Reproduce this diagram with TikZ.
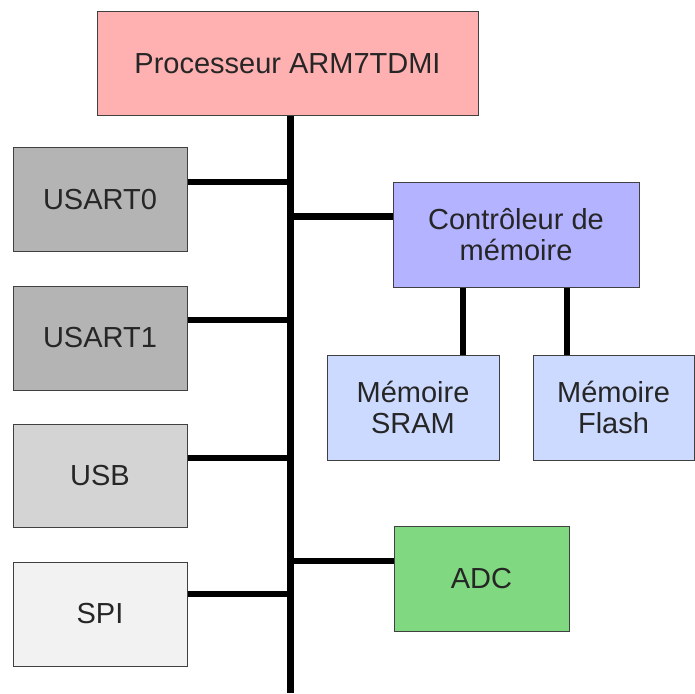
\documentclass[tikz,border=0pt]{standalone}
\usepackage{fontspec}
\setmainfont{Liberation Sans}
\begin{document}
\begin{tikzpicture}[x=1pt,y=-1pt,
  blk/.style={draw=black!75,line width=1pt,rectangle,inner sep=0pt,align=center,
    font=\fontsize{29}{31}\selectfont,text=black!85},
  bus/.style={line width=6.5pt,black}]
\useasboundingbox (0,0) rectangle (695,693);
\definecolor{cpu}{HTML}{FFB0B0}
\definecolor{usart}{HTML}{B4B4B4}
\definecolor{usb}{HTML}{D4D4D4}
\definecolor{spi}{HTML}{F2F2F2}
\definecolor{ctrl}{HTML}{B3B3FF}
\definecolor{mem}{HTML}{CCDAFF}
\definecolor{adc}{HTML}{80D880}
\node[blk,fill=cpu,minimum width=381pt,minimum height=103pt] (cpu) at (287.5,63.5) {Processeur ARM7TDMI};
\node[blk,fill=usart,minimum width=174pt,minimum height=104pt] (u0) at (100,199.5) {USART0};
\node[blk,fill=usart,minimum width=174pt,minimum height=104pt] (u1) at (100,338) {USART1};
\node[blk,fill=usb,minimum width=174pt,minimum height=103pt] (usb) at (100,475.5) {USB};
\node[blk,fill=spi,minimum width=174pt,minimum height=104pt] (spi) at (100,614) {SPI};
\node[blk,fill=ctrl,minimum width=246pt,minimum height=105pt] (ctrl) at (516,234.5) {Contrôleur de\\mémoire};
\node[blk,fill=mem,minimum width=172pt,minimum height=105pt] (sram) at (413,407.5) {Mémoire\\SRAM};
\node[blk,fill=mem,minimum width=161pt,minimum height=105pt] (flash) at (613.5,407.5) {Mémoire\\Flash};
\node[blk,fill=adc,minimum width=175pt,minimum height=105pt] (adc) at (481.5,578.5) {ADC};
\coordinate (top) at (290.5,115);
\coordinate (bot) at (290.5,693);
\draw[bus] (cpu.south -| top) -- (bot);
\draw[bus] (u0.east |- 0,182) -- (290.5,182);
\draw[bus] (u1.east |- 0,320) -- (290.5,320);
\draw[bus] (usb.east |- 0,458) -- (290.5,458);
\draw[bus] (spi.east |- 0,594) -- (290.5,594);
\draw[bus] (290.5,216.5) -- (ctrl.west |- 0,216.5);
\draw[bus] (290.5,561) -- (adc.west |- 0,561);
\draw[bus] (ctrl.south -| 463,0) -- (sram.north -| 463,0);
\draw[bus] (ctrl.south -| 567,0) -- (flash.north -| 567,0);
\end{tikzpicture}
\end{document}
